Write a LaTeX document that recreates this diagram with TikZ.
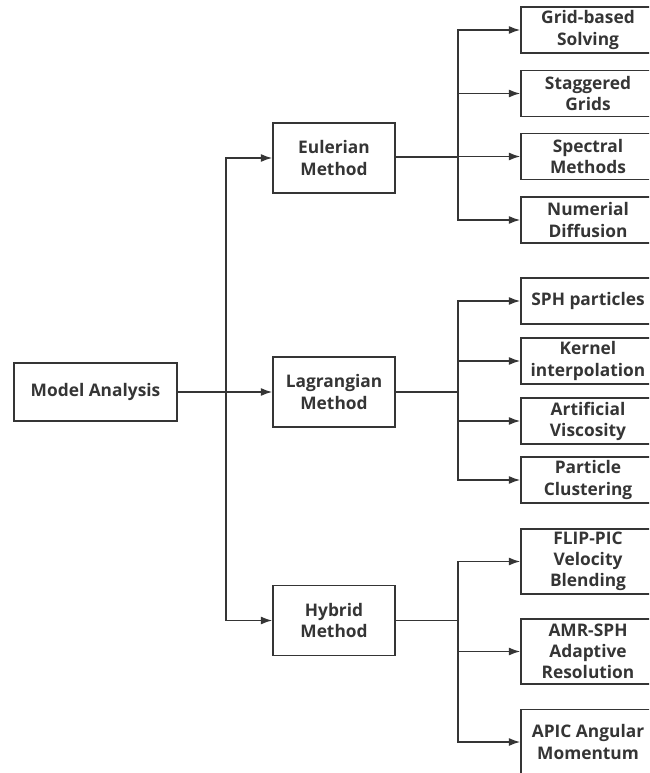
\documentclass[tikz,border=0pt]{standalone}
\usepackage{fontspec}
\setmainfont{Open Sans}
\usepackage{xcolor}
\usetikzlibrary{arrows.meta,positioning}
\definecolor{ink}{HTML}{353535}
\tikzset{
  box/.style={draw=ink, line width=1.2pt, align=center, inner sep=2pt, text=ink,
    font=\fontsize{13}{15.8}\selectfont\bfseries},
  rootbox/.style={box, minimum width=122pt, minimum height=43.5pt},
  midbox/.style={box, minimum width=91.5pt, minimum height=52.5pt},
  leafbox/.style={box, minimum width=100.5pt, minimum height=34.5pt},
  tallbox/.style={leafbox, minimum height=49pt},
  line/.style={-{Latex[length=8.5pt,width=6pt]}, draw=ink, line width=1.15pt}
}

\begin{document}
\begin{tikzpicture}[x=0.75pt, y=-0.75pt]
  \clip (0,0) rectangle (649,773);
  \fill[white] (0,0) rectangle (649,773);
  % root and the three methods
  \node[rootbox] (ma) at (95.5,392) {Model Analysis};
  \node[midbox] (eu) at (334,158) {Eulerian\\Method};
  \node[midbox] (la) at (334,392) {Lagrangian\\Method};
  \node[midbox] (hy) at (334,620.5) {Hybrid\\Method};
  % leaves
  \node[leafbox] (e1) at (588,30) {Grid-based\\Solving};
  \node[leafbox] (e2) at (588,93.5) {Staggered\\Grids};
  \node[leafbox] (e3) at (588,156.5) {Spectral\\Methods};
  \node[leafbox] (e4) at (588,220) {Numerial\\Diffusion};
  \node[leafbox] (l1) at (588,301) {SPH particles};
  \node[leafbox] (l2) at (588,361) {Kernel\\interpolation};
  \node[leafbox] (l3) at (588,421) {Artificial\\Viscosity};
  \node[leafbox] (l4) at (588,480) {Particle\\Clustering};
  \node[tallbox] (h1) at (588,561.5) {FLIP-PIC\\Velocity\\Blending};
  \node[tallbox] (h2) at (588,651.5) {AMR-SPH\\Adaptive\\Resolution};
  \node[tallbox] (h3) at (588,742) {APIC Angular\\Momentum};
  % joints
  \coordinate (mj) at (226,392);
  \coordinate (ej) at (458,157);
  \coordinate (lj) at (458,392);
  \coordinate (hj) at (458,620.5);
  \draw[line] (ma) -- (la);
  \draw[line] (mj) |- (eu);
  \draw[line] (mj) |- (hy);
  \draw[ink, line width=1.15pt] (eu.east |- ej) -- (ej);
  \draw[ink, line width=1.15pt] (la) -- (lj);
  \draw[ink, line width=1.15pt] (hy) -- (hj);
  \foreach \n in {e1,e2,e3,e4} \draw[line] (ej) |- (\n.west);
  \foreach \n in {l1,l2,l3,l4} \draw[line] (lj) |- (\n.west);
  \foreach \n in {h1,h2,h3} \draw[line] (hj) |- (\n.west);
\end{tikzpicture}
\end{document}
